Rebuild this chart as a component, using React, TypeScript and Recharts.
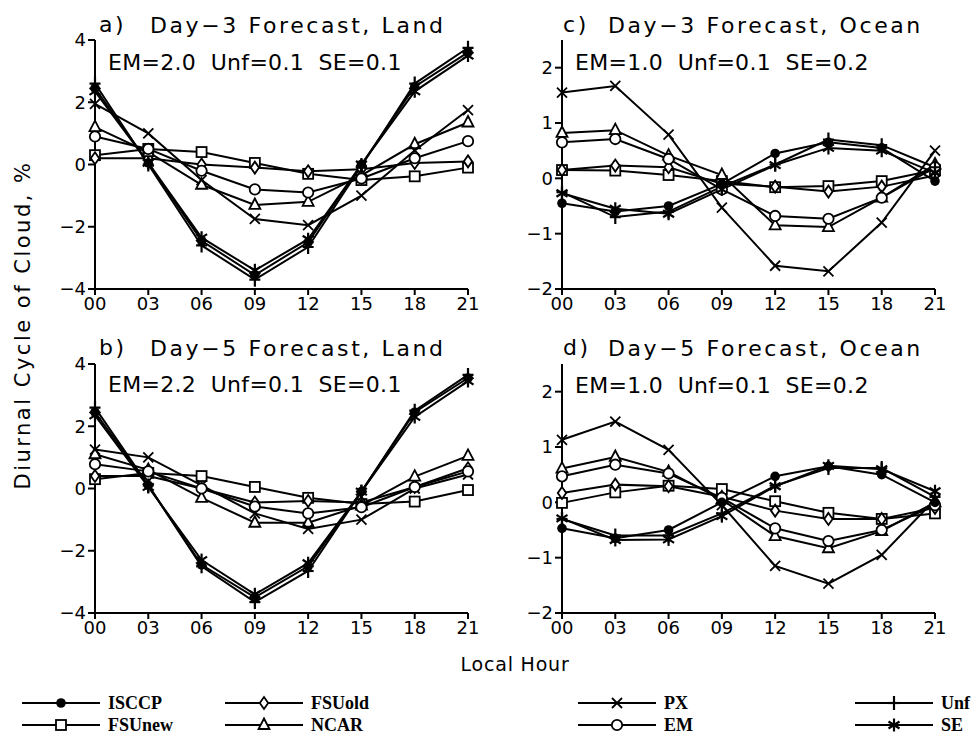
import React from 'react';
import { LineChart, Line, XAxis, YAxis } from 'recharts';

// Local hour (x axis) and its tick labels
const hours = [0, 3, 6, 9, 12, 15, 18, 21];
const hourLabels = ['00', '03', '06', '09', '12', '15', '18', '21'];

const landTicks = [-4, -2, 0, 2, 4];
const oceanTicks = [-2, -1, 0, 1, 2];

// a) Day-3 forecast, land
const d3LandISCCP = [2.45, 0.05, -2.45, -3.55, -2.5, 0.0, 2.5, 3.6];
const d3LandUnf = [2.6, 0.0, -2.6, -3.7, -2.65, -0.05, 2.6, 3.75];
const d3LandSE = [2.35, 0.05, -2.35, -3.4, -2.4, 0.0, 2.35, 3.5];
const d3LandFSUnew = [0.3, 0.5, 0.4, 0.05, -0.3, -0.5, -0.38, -0.1];
const d3LandFSUold = [0.2, 0.2, 0.0, -0.1, -0.22, -0.15, 0.05, 0.1];
const d3LandNCAR = [1.2, 0.4, -0.65, -1.3, -1.2, -0.35, 0.65, 1.35];
const d3LandPX = [1.95, 1.0, -0.5, -1.75, -1.95, -1.0, 0.45, 1.75];
const d3LandEM = [0.9, 0.5, -0.2, -0.8, -0.9, -0.45, 0.2, 0.75];

// b) Day-5 forecast, land
const d5LandISCCP = [2.45, 0.1, -2.45, -3.5, -2.5, -0.1, 2.45, 3.55];
const d5LandUnf = [2.6, 0.1, -2.5, -3.65, -2.65, -0.1, 2.5, 3.65];
const d5LandSE = [2.35, 0.05, -2.3, -3.4, -2.4, -0.1, 2.3, 3.45];
const d5LandFSUnew = [0.3, 0.5, 0.4, 0.05, -0.3, -0.5, -0.42, -0.05];
const d5LandFSUold = [0.4, 0.4, 0.0, -0.45, -0.4, -0.45, 0.05, 0.65];
const d5LandNCAR = [1.1, 0.6, -0.3, -1.1, -1.1, -0.55, 0.38, 1.05];
const d5LandPX = [1.25, 1.0, 0.1, -0.8, -1.3, -1.0, 0.0, 0.45];
const d5LandEM = [0.78, 0.55, 0.0, -0.58, -0.8, -0.6, 0.05, 0.55];

// c) Day-3 forecast, ocean
const d3OceanISCCP = [-0.45, -0.6, -0.5, -0.1, 0.45, 0.65, 0.55, -0.05];
const d3OceanUnf = [-0.25, -0.7, -0.6, -0.15, 0.25, 0.7, 0.6, 0.2];
const d3OceanSE = [-0.27, -0.55, -0.64, -0.2, 0.24, 0.55, 0.5, 0.1];
const d3OceanFSUnew = [0.15, 0.14, 0.06, -0.05, -0.16, -0.14, -0.05, 0.15];
const d3OceanFSUold = [0.15, 0.23, 0.2, -0.1, -0.15, -0.24, -0.15, 0.05];
const d3OceanNCAR = [0.82, 0.87, 0.41, 0.06, -0.85, -0.88, -0.35, 0.25];
const d3OceanPX = [1.55, 1.67, 0.79, -0.53, -1.58, -1.68, -0.8, 0.5];
const d3OceanEM = [0.65, 0.71, 0.35, -0.2, -0.68, -0.73, -0.35, 0.2];

// d) Day-5 forecast, ocean
const d5OceanISCCP = [-0.47, -0.65, -0.5, 0.0, 0.47, 0.65, 0.5, 0.0];
const d5OceanUnf = [-0.3, -0.6, -0.6, -0.2, 0.3, 0.62, 0.62, 0.1];
const d5OceanSE = [-0.29, -0.68, -0.67, -0.25, 0.29, 0.66, 0.6, 0.2];
const d5OceanFSUnew = [-0.01, 0.18, 0.3, 0.24, 0.02, -0.19, -0.3, -0.2];
const d5OceanFSUold = [0.17, 0.32, 0.29, 0.1, -0.15, -0.3, -0.3, -0.1];
const d5OceanNCAR = [0.61, 0.82, 0.55, 0.05, -0.61, -0.83, -0.52, 0.0];
const d5OceanPX = [1.13, 1.46, 0.95, -0.05, -1.15, -1.47, -0.95, 0.05];
const d5OceanEM = [0.47, 0.68, 0.52, 0.08, -0.47, -0.7, -0.5, -0.05];

type Shape = 'dot' | 'square' | 'diamond' | 'triangle' | 'cross' | 'circle' | 'plus' | 'star';

const SERIES: { key: string; shape: Shape }[] = [
  { key: 'FSUnew', shape: 'square' },
  { key: 'FSUold', shape: 'diamond' },
  { key: 'NCAR', shape: 'triangle' },
  { key: 'PX', shape: 'cross' },
  { key: 'EM', shape: 'circle' },
  { key: 'ISCCP', shape: 'dot' },
  { key: 'Unf', shape: 'plus' },
  { key: 'SE', shape: 'star' },
];

function buildRows(cols: Record<string, number[]>) {
  return hours.map((h, i) => {
    const row: Record<string, number> = { h };
    Object.keys(cols).forEach((k) => {
      row[k] = cols[k][i];
    });
    return row;
  });
}

const dataA = buildRows({ ISCCP: d3LandISCCP, Unf: d3LandUnf, SE: d3LandSE, FSUnew: d3LandFSUnew, FSUold: d3LandFSUold, NCAR: d3LandNCAR, PX: d3LandPX, EM: d3LandEM });
const dataB = buildRows({ ISCCP: d5LandISCCP, Unf: d5LandUnf, SE: d5LandSE, FSUnew: d5LandFSUnew, FSUold: d5LandFSUold, NCAR: d5LandNCAR, PX: d5LandPX, EM: d5LandEM });
const dataC = buildRows({ ISCCP: d3OceanISCCP, Unf: d3OceanUnf, SE: d3OceanSE, FSUnew: d3OceanFSUnew, FSUold: d3OceanFSUold, NCAR: d3OceanNCAR, PX: d3OceanPX, EM: d3OceanEM });
const dataD = buildRows({ ISCCP: d5OceanISCCP, Unf: d5OceanUnf, SE: d5OceanSE, FSUnew: d5OceanFSUnew, FSUold: d5OceanFSUold, NCAR: d5OceanNCAR, PX: d5OceanPX, EM: d5OceanEM });

const SW = 1.8;

function Marker({ shape, cx, cy }: { shape: Shape; cx: number; cy: number }) {
  switch (shape) {
    case 'dot':
      return <circle cx={cx} cy={cy} r={4.8} fill="#000" />;
    case 'square':
      return <rect x={cx - 5} y={cy - 5} width={10} height={10} fill="#fff" stroke="#000" strokeWidth={SW} />;
    case 'diamond':
      return (
        <polygon
          points={`${cx},${cy - 6} ${cx + 4.2},${cy} ${cx},${cy + 6} ${cx - 4.2},${cy}`}
          fill="#fff"
          stroke="#000"
          strokeWidth={SW}
        />
      );
    case 'triangle':
      return (
        <polygon
          points={`${cx},${cy - 6.5} ${cx + 5.5},${cy + 4} ${cx - 5.5},${cy + 4}`}
          fill="#fff"
          stroke="#000"
          strokeWidth={SW}
        />
      );
    case 'cross':
      return (
        <g stroke="#000" strokeWidth={SW}>
          <line x1={cx - 5} y1={cy - 5} x2={cx + 5} y2={cy + 5} />
          <line x1={cx - 5} y1={cy + 5} x2={cx + 5} y2={cy - 5} />
        </g>
      );
    case 'circle':
      return <circle cx={cx} cy={cy} r={5.2} fill="#fff" stroke="#000" strokeWidth={SW} />;
    case 'plus':
      return (
        <g stroke="#000" strokeWidth={SW + 0.4}>
          <line x1={cx} y1={cy - 7} x2={cx} y2={cy + 7} />
          <line x1={cx - 5.5} y1={cy} x2={cx + 5.5} y2={cy} />
        </g>
      );
    case 'star':
      return (
        <g stroke="#000" strokeWidth={SW + 0.4}>
          <line x1={cx} y1={cy - 6.5} x2={cx} y2={cy + 6.5} />
          <line x1={cx - 5.5} y1={cy - 3.5} x2={cx + 5.5} y2={cy + 3.5} />
          <line x1={cx - 5.5} y1={cy + 3.5} x2={cx + 5.5} y2={cy - 3.5} />
        </g>
      );
  }
  return null;
}

const FONT = '"DejaVu Sans", sans-serif';

const fmtHour = (v: number) => hourLabels[hours.indexOf(v)] ?? String(v);
const fmtVal = (v: number) => (v < 0 ? '\u2212' + Math.abs(v) : String(v));

type Rect = { x0: number; x1: number; y0: number; y1: number };

function Panel({ rect, data, yDomain, yTicks }: { rect: Rect; data: Record<string, number>[]; yDomain: [number, number]; yTicks: number[] }) {
  const ml = 15;
  const yw = 40;
  const mt = 10;
  const mr = 12;
  const mb = 10;
  const xh = 30;
  const width = rect.x1 - rect.x0 + ml + yw + mr;
  const height = rect.y1 - rect.y0 + mt + mb + xh;
  const axisLine = { stroke: '#000', strokeWidth: 2 };
  const tickStyle = { fill: '#000', fontSize: 18, fontFamily: FONT };
  return (
    <div style={{ position: 'absolute', left: rect.x0 - ml - yw, top: rect.y0 - mt }}>
      <LineChart width={width} height={height} data={data} margin={{ top: mt, right: mr, bottom: mb, left: ml }}>
        <XAxis
          dataKey="h"
          type="number"
          domain={[0, 21]}
          ticks={hours}
          interval={0}
          tickFormatter={fmtHour}
          height={xh}
          tickSize={6}
          tickMargin={2}
          axisLine={axisLine}
          tickLine={axisLine}
          tick={tickStyle}
        />
        <XAxis xAxisId="top" orientation="top" dataKey="h" type="number" domain={[0, 21]} height={0} tick={false} tickLine={false} axisLine={axisLine} />
        <YAxis
          type="number"
          domain={yDomain}
          ticks={yTicks}
          interval={0}
          tickFormatter={fmtVal}
          width={yw}
          tickSize={7}
          tickMargin={2}
          axisLine={axisLine}
          tickLine={axisLine}
          tick={tickStyle}
          allowDataOverflow
        />
        <YAxis yAxisId="right" orientation="right" width={0} domain={yDomain} tick={false} tickLine={false} axisLine={axisLine} />
        {SERIES.map((s) => (
          <Line
            key={s.key}
            dataKey={s.key}
            type="linear"
            stroke="#000"
            strokeWidth={2}
            isAnimationActive={false}
            dot={(p: any) => <Marker key={`${s.key}-${p.index}`} shape={s.shape} cx={p.cx} cy={p.cy} />}
            activeDot={false}
          />
        ))}
      </LineChart>
    </div>
  );
}

const legendRows: { key: string; shape: Shape; x: number; y: number }[] = [
  { key: 'ISCCP', shape: 'dot', x: 22, y: 703 },
  { key: 'FSUnew', shape: 'square', x: 22, y: 725 },
  { key: 'FSUold', shape: 'diamond', x: 225, y: 703 },
  { key: 'NCAR', shape: 'triangle', x: 225, y: 725 },
  { key: 'PX', shape: 'cross', x: 578, y: 703 },
  { key: 'EM', shape: 'circle', x: 578, y: 725 },
  { key: 'Unf', shape: 'plus', x: 855, y: 703 },
  { key: 'SE', shape: 'star', x: 855, y: 725 },
];

const titleStyle = { fontFamily: FONT, fontSize: 22, letterSpacing: 2.6 } as const;
const statStyle = { fontFamily: FONT, fontSize: 22, letterSpacing: 0.3, whiteSpace: 'pre' } as const;

export default function App() {
  return (
    <div style={{ position: 'absolute', left: 0, top: 0, width: 972, height: 744, background: '#fff', overflow: 'hidden' }}>
      <Panel rect={{ x0: 95, x1: 468, y0: 40, y1: 289 }} data={dataA} yDomain={[-4, 4]} yTicks={landTicks} />
      <Panel rect={{ x0: 95, x1: 468, y0: 364, y1: 613 }} data={dataB} yDomain={[-4, 4]} yTicks={landTicks} />
      <Panel rect={{ x0: 562, x1: 935, y0: 40, y1: 289 }} data={dataC} yDomain={[-2, 2.5]} yTicks={oceanTicks} />
      <Panel rect={{ x0: 562, x1: 935, y0: 364, y1: 613 }} data={dataD} yDomain={[-2, 2.5]} yTicks={oceanTicks} />
      <svg width={972} height={744} style={{ position: 'absolute', left: 0, top: 0, pointerEvents: 'none' }}>
        <g fill="#000">
          <text x={99} y={32} style={titleStyle}>a)</text>
          <text x={150} y={33} style={titleStyle}>Day−3 Forecast, Land</text>
          <text x={563} y={32} style={titleStyle}>c)</text>
          <text x={608} y={33} style={titleStyle}>Day−3 Forecast, Ocean</text>
          <text x={99} y={355} style={titleStyle}>b)</text>
          <text x={150} y={356} style={titleStyle}>Day−5 Forecast, Land</text>
          <text x={563} y={355} style={titleStyle}>d)</text>
          <text x={608} y={356} style={titleStyle}>Day−5 Forecast, Ocean</text>

          <text x={108} y={70} style={statStyle}>{'EM=2.0  Unf=0.1  SE=0.1'}</text>
          <text x={108} y={392} style={statStyle}>{'EM=2.2  Unf=0.1  SE=0.1'}</text>
          <text x={575} y={70} style={statStyle}>{'EM=1.0  Unf=0.1  SE=0.2'}</text>
          <text x={575} y={393} style={statStyle}>{'EM=1.0  Unf=0.1  SE=0.2'}</text>

          <text
            transform="translate(30,325) rotate(-90)"
            textAnchor="middle"
            style={{ fontFamily: FONT, fontSize: 21, letterSpacing: 2.5 }}
          >
            Diurnal Cycle of Cloud, %
          </text>
          <text x={515} y={671} textAnchor="middle" style={{ fontFamily: FONT, fontSize: 19, letterSpacing: 0.8 }}>
            Local Hour
          </text>
        </g>
        {legendRows.map((r) => (
          <g key={r.key}>
            <line x1={r.x} y1={r.y} x2={r.x + 78} y2={r.y} stroke="#000" strokeWidth={2} />
            <Marker shape={r.shape} cx={r.x + 39} cy={r.y} />
            <text
              x={r.x + 86}
              y={r.y + 6}
              style={{ fontFamily: '"Liberation Serif", serif', fontWeight: 'bold', fontSize: 18 }}
            >
              {r.key}
            </text>
          </g>
        ))}
      </svg>
    </div>
  );
}
